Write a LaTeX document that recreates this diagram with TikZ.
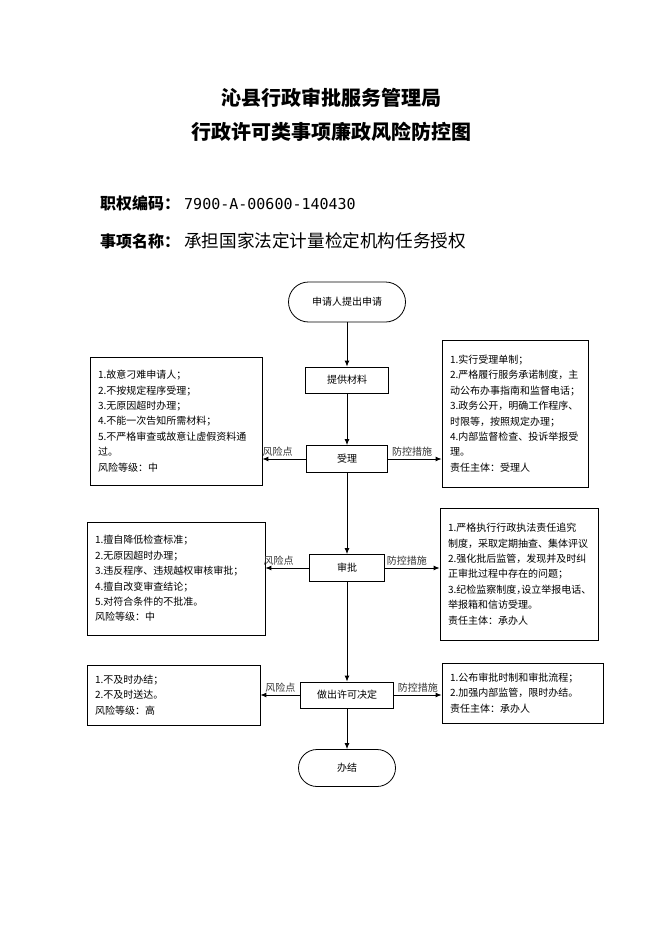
\documentclass[tikz,border=0pt]{standalone}
\usepackage{fontspec}
\setmainfont{Noto Sans CJK SC}
\newfontfamily\codefont{DejaVu Sans Mono}
\usetikzlibrary{arrows.meta}
\XeTeXlinebreaklocale "zh"

\tikzset{
  stepbox/.style={draw, line width=0.8pt, minimum height=26pt, inner sep=2pt, font=\fontsize{10}{12}\selectfont},
  endbox/.style={draw, line width=0.8pt, inner sep=2pt, font=\fontsize{10}{12}\selectfont},
  listbox/.style={draw, line width=0.8pt, align=left, inner sep=0pt, font=\fontsize{10}{15.4}\selectfont},
  arr/.style={-{Latex[length=6pt,width=5pt]}, line width=0.9pt},
  lbl/.style={above, inner sep=2pt, text=black!80, font=\fontsize{10}{12}\selectfont}
}

\begin{document}
\begin{tikzpicture}[x=1pt, y=-1pt]
    \useasboundingbox (0,0) rectangle (662,936);

    % Titles
    \node[font=\bfseries\fontsize{20}{24}\selectfont] (title1) at (331,98) {沁县行政审批服务管理局};
    \node[font=\bfseries\fontsize{20}{24}\selectfont] (title2) at (331,132) {行政许可类事项廉政风险防控图};
    \node[anchor=west, inner sep=0pt, font=\bfseries\fontsize{16}{18}\selectfont] (code) at (100,203)
        {职权编码：\hspace{4pt}{\codefont\mdseries\fontsize{15}{18}\selectfont 7900-A-00600-140430}};
    \node[anchor=west, inner sep=0pt, font=\fontsize{16}{18}\selectfont] (item) at (100,241)
        {\textbf{事项名称：}\hspace{4pt}{\fontsize{17.6}{20}\selectfont 承担国家法定计量检定机构任务授权}};

    % Main steps
    \node[endbox, minimum width=117pt, minimum height=40pt, rounded corners=20pt] (start) at (347,302) {申请人提出申请};
    \node[stepbox, minimum width=83pt] (cailiao) at (347,380) {提供材料};
    \node[stepbox, minimum width=81pt, minimum height=27pt] (shouli) at (347,459) {受理};
    \node[stepbox, minimum width=75pt, minimum height=27pt] (shenpi) at (347,568) {审批};
    \node[stepbox, minimum width=93pt] (jueding) at (347,695) {做出许可决定};
    \node[endbox, minimum width=97pt, minimum height=37pt, rounded corners=18.5pt] (banjie) at (347,768) {办结};

    % Risk points
    \node[listbox, minimum width=172pt, minimum height=128pt, text width=156pt] (fx1) at (176,421)
        {1.故意刁难申请人；\\2.不按规定程序受理；\\3.无原因超时办理；\\4.不能一次告知所需材料；\\5.不严格审查或故意让虚假资料通\\过。\\风险等级：中};
    \node[listbox, minimum width=178pt, minimum height=113pt, text width=162pt] (fx2) at (176,578.5)
        {1.擅自降低检查标准；\\2.无原因超时办理；\\3.违反程序、违规越权审核审批；\\4.擅自改变审查结论；\\5.对符合条件的不批准。\\风险等级：中};
    \node[listbox, minimum width=173pt, minimum height=60pt, text width=157pt] (fx3) at (173.5,695)
        {1.不及时办结；\\2.不及时送达。\\风险等级：高};

    % Control measures
    \node[listbox, minimum width=146pt, minimum height=147pt, text width=130pt] (fk1) at (515,413.5)
        {1.实行受理单制；\\2.严格履行服务承诺制度，主\\动公布办事指南和监督电话；\\3.政务公开，明确工作程序、\\时限等，按照规定办理；\\4.内部监督检查、投诉举报受\\理。\\责任主体：受理人};
    \node[listbox, minimum width=158pt, minimum height=132pt, text width=142pt] (fk2) at (519,574)
        {1.严格执行行政执法责任追究\\\mbox{制度，采取定期抽查、集体评议}\\2.强化批后监管，发现并及时纠\\正审批过程中存在的问题；\\\mbox{3.纪检监察制度，\hspace{-0.5em}设立举报电话、}\\举报箱和信访受理。\\责任主体：承办人};
    \node[listbox, minimum width=161pt, minimum height=60pt, text width=145pt] (fk3) at (522.5,693)
        {1.公布审批时制和审批流程；\\2.加强内部监管，限时办结。\\责任主体：承办人};

    % Main flow
    \draw[arr] (start) -- (cailiao);
    \draw[arr] (cailiao) -- (shouli);
    \draw[arr] (shouli) -- (shenpi);
    \draw[arr] (shenpi) -- (jueding);
    \draw[arr] (jueding) -- (banjie);

    % Side arrows
    \draw[arr] (shouli.west) -- (shouli.west -| fx1.east) node[lbl, pos=0.65] {风险点};
    \draw[arr] (shouli.east) -- (shouli.east -| fk1.west) node[lbl, pos=0.45] {防控措施};
    \draw[arr] (shenpi.west) -- (shenpi.west -| fx2.east) node[lbl, pos=0.7] {风险点};
    \draw[arr] (shenpi.east) -- (shenpi.east -| fk2.west) node[lbl, pos=0.4] {防控措施};
    \draw[arr] (jueding.west) -- (jueding.west -| fx3.east) node[lbl, pos=0.5] {风险点};
    \draw[arr] (jueding.east) -- (jueding.east -| fk3.west) node[lbl, pos=0.5] {防控措施};
\end{tikzpicture}
\end{document}
